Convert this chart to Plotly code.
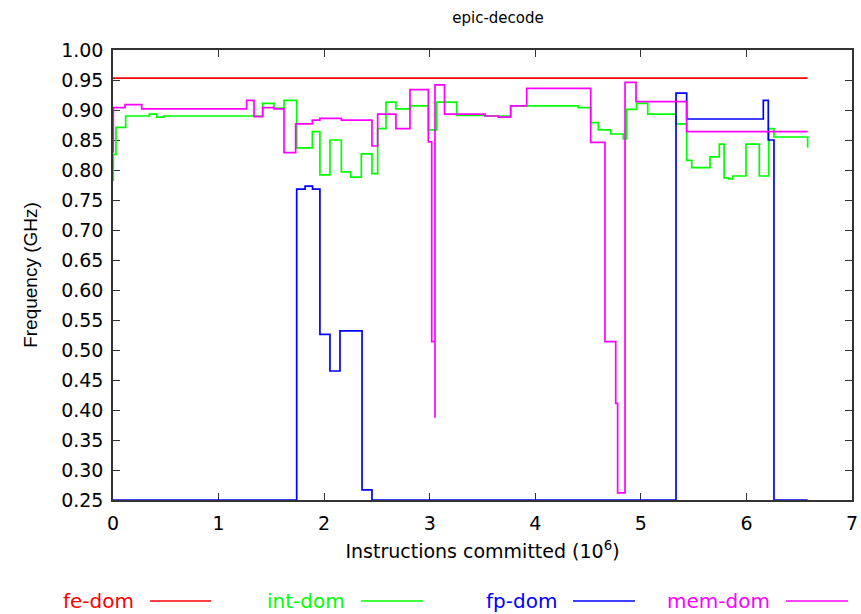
import plotly.graph_objects as go

title_text = "epic-decode"
x_title = "Instructions committed (10<sup>6</sup>)"
y_title = "Frequency (GHz)"

fe_x = [0.0, 6.58]
fe_y = [0.953, 0.953]

int_x = [0.0, 0.003, 0.028, 0.12, 0.344, 0.414, 0.483, 1.418, 1.525, 1.62, 1.74, 1.888,
         1.96, 2.055, 2.163, 2.252, 2.352, 2.453, 2.507, 2.586, 2.68, 2.813, 2.987, 3.066,
         3.256, 3.524, 3.767, 4.407, 4.525, 4.597, 4.714, 4.834, 4.866, 4.96, 5.065, 5.333,
         5.434, 5.482, 5.655, 5.743, 5.788, 5.829, 5.87, 5.996, 6.122, 6.211, 6.261, 6.58]
int_y = [0.783, 0.826, 0.871, 0.890, 0.893, 0.888, 0.890, 0.911, 0.903, 0.916, 0.837, 0.864,
         0.792, 0.850, 0.797, 0.788, 0.827, 0.794, 0.869, 0.913, 0.902, 0.907, 0.867, 0.913,
         0.891, 0.890, 0.907, 0.904, 0.879, 0.867, 0.860, 0.852, 0.901, 0.911, 0.893, 0.877,
         0.816, 0.804, 0.822, 0.843, 0.787, 0.785, 0.790, 0.843, 0.790, 0.869, 0.855, 0.837]

fp_x = [0.0, 1.74, 1.82, 1.89, 1.96, 2.055, 2.15, 2.359, 2.453, 5.333, 5.434, 6.16, 6.207,
        6.261, 6.58]
fp_y = [0.25, 0.768, 0.773, 0.768, 0.526, 0.465, 0.532, 0.267, 0.25, 0.928, 0.885, 0.916,
        0.850, 0.25, 0.25]

mem_x = [0.0, 0.003, 0.114, 0.272, 1.266, 1.336, 1.418, 1.525, 1.62, 1.73, 1.888, 1.96,
         2.163, 2.453, 2.507, 2.68, 2.813, 2.987, 3.019, 3.05, 3.05, 3.14, 3.524, 3.65, 3.767,
         3.919, 4.525, 4.66, 4.762, 4.78, 4.85, 4.954, 5.434, 6.58]
mem_y = [0.830, 0.904, 0.909, 0.902, 0.916, 0.889, 0.904, 0.902, 0.829, 0.877, 0.883, 0.886,
         0.883, 0.840, 0.893, 0.869, 0.934, 0.847, 0.514, 0.387, 0.942, 0.893, 0.890, 0.888,
         0.907, 0.936, 0.846, 0.514, 0.411, 0.262, 0.946, 0.914, 0.864, 0.864]

series_names = ["fe-dom", "int-dom", "fp-dom", "mem-dom"]
series_colors = ["#ff0000", "#00ff00", "#0000ff", "#ff00ff"]
series_data = [(fe_x, fe_y), (int_x, int_y), (fp_x, fp_y), (mem_x, mem_y)]

x_ticks = [0, 1, 2, 3, 4, 5, 6, 7]
y_ticks = [0.25 + 0.05 * i for i in range(16)]

wide_font = "DejaVu Sans, Verdana, sans-serif"
narrow_font = "Liberation Sans, Arial, Helvetica, sans-serif"

fig = go.Figure()
for name, color, (xs, ys) in zip(series_names, series_colors, series_data):
    fig.add_trace(go.Scatter(x=xs, y=ys, mode="lines", name=name,
                             line=dict(color=color, width=1.7, shape="hv"),
                             showlegend=False))

W, H = 861, 614
L, R, T, B = 113, 9, 50, 114

# manual legend: text followed by a line sample
leg_text_right = [136, 347, 559, 772]
leg_line = [(150, 211), (361, 423), (573, 635), (786, 848)]
leg_y = 601
annotations = []
shapes = []
pw = W - L - R
ph = H - T - B
for name, color, tr, (l0, l1) in zip(series_names, series_colors, leg_text_right, leg_line):
    annotations.append(dict(text=name, xref="paper", yref="paper",
                            x=(tr - L) / pw, y=(H - B - leg_y) / ph,
                            xanchor="right", yanchor="middle", showarrow=False,
                            font=dict(size=20, color=color, family=wide_font)))
    shapes.append(dict(type="line", xref="paper", yref="paper",
                       x0=(l0 - L) / pw, x1=(l1 - L) / pw,
                       y0=(H - B - leg_y) / ph, y1=(H - B - leg_y) / ph,
                       line=dict(color=color, width=1.7)))

fig.update_layout(
    width=W, height=H,
    margin=dict(l=L, r=R, t=T, b=B, autoexpand=False),
    paper_bgcolor="white", plot_bgcolor="white",
    font=dict(family=wide_font, size=19, color="black"),
    title=dict(text=title_text, x=498 / W, xanchor="center",
               y=1 - 18 / H, yanchor="middle", yref="container",
               font=dict(size=15, family=wide_font)),
    xaxis=dict(range=[0, 7], tickvals=x_ticks, ticktext=[str(v) for v in x_ticks],
               ticks="inside", ticklen=7, tickcolor="#333", showgrid=False, zeroline=False,
               showline=True, linecolor="#333", linewidth=1.5, mirror="ticks",
               layer="below traces", ticklabelstandoff=5, automargin=False,
               tickfont=dict(size=19, family=wide_font),
               title=dict(text=x_title, standoff=12, font=dict(size=19, family=wide_font))),
    yaxis=dict(range=[0.25, 1.0], tickvals=y_ticks, ticktext=[f"{v:.2f}" for v in y_ticks],
               ticks="inside", ticklen=7, tickcolor="#333", showgrid=False, zeroline=False,
               showline=True, linecolor="#333", linewidth=1.5, mirror="ticks",
               layer="below traces", ticklabelstandoff=4, automargin=False,
               tickfont=dict(size=19, family=wide_font),
               title=dict(text=y_title, standoff=18, font=dict(size=19, family=narrow_font))),
    annotations=annotations,
    shapes=shapes,
)

fig.write_html("out.html", post_script="document.body.style.margin='0';",
               config={"displayModeBar": False})
